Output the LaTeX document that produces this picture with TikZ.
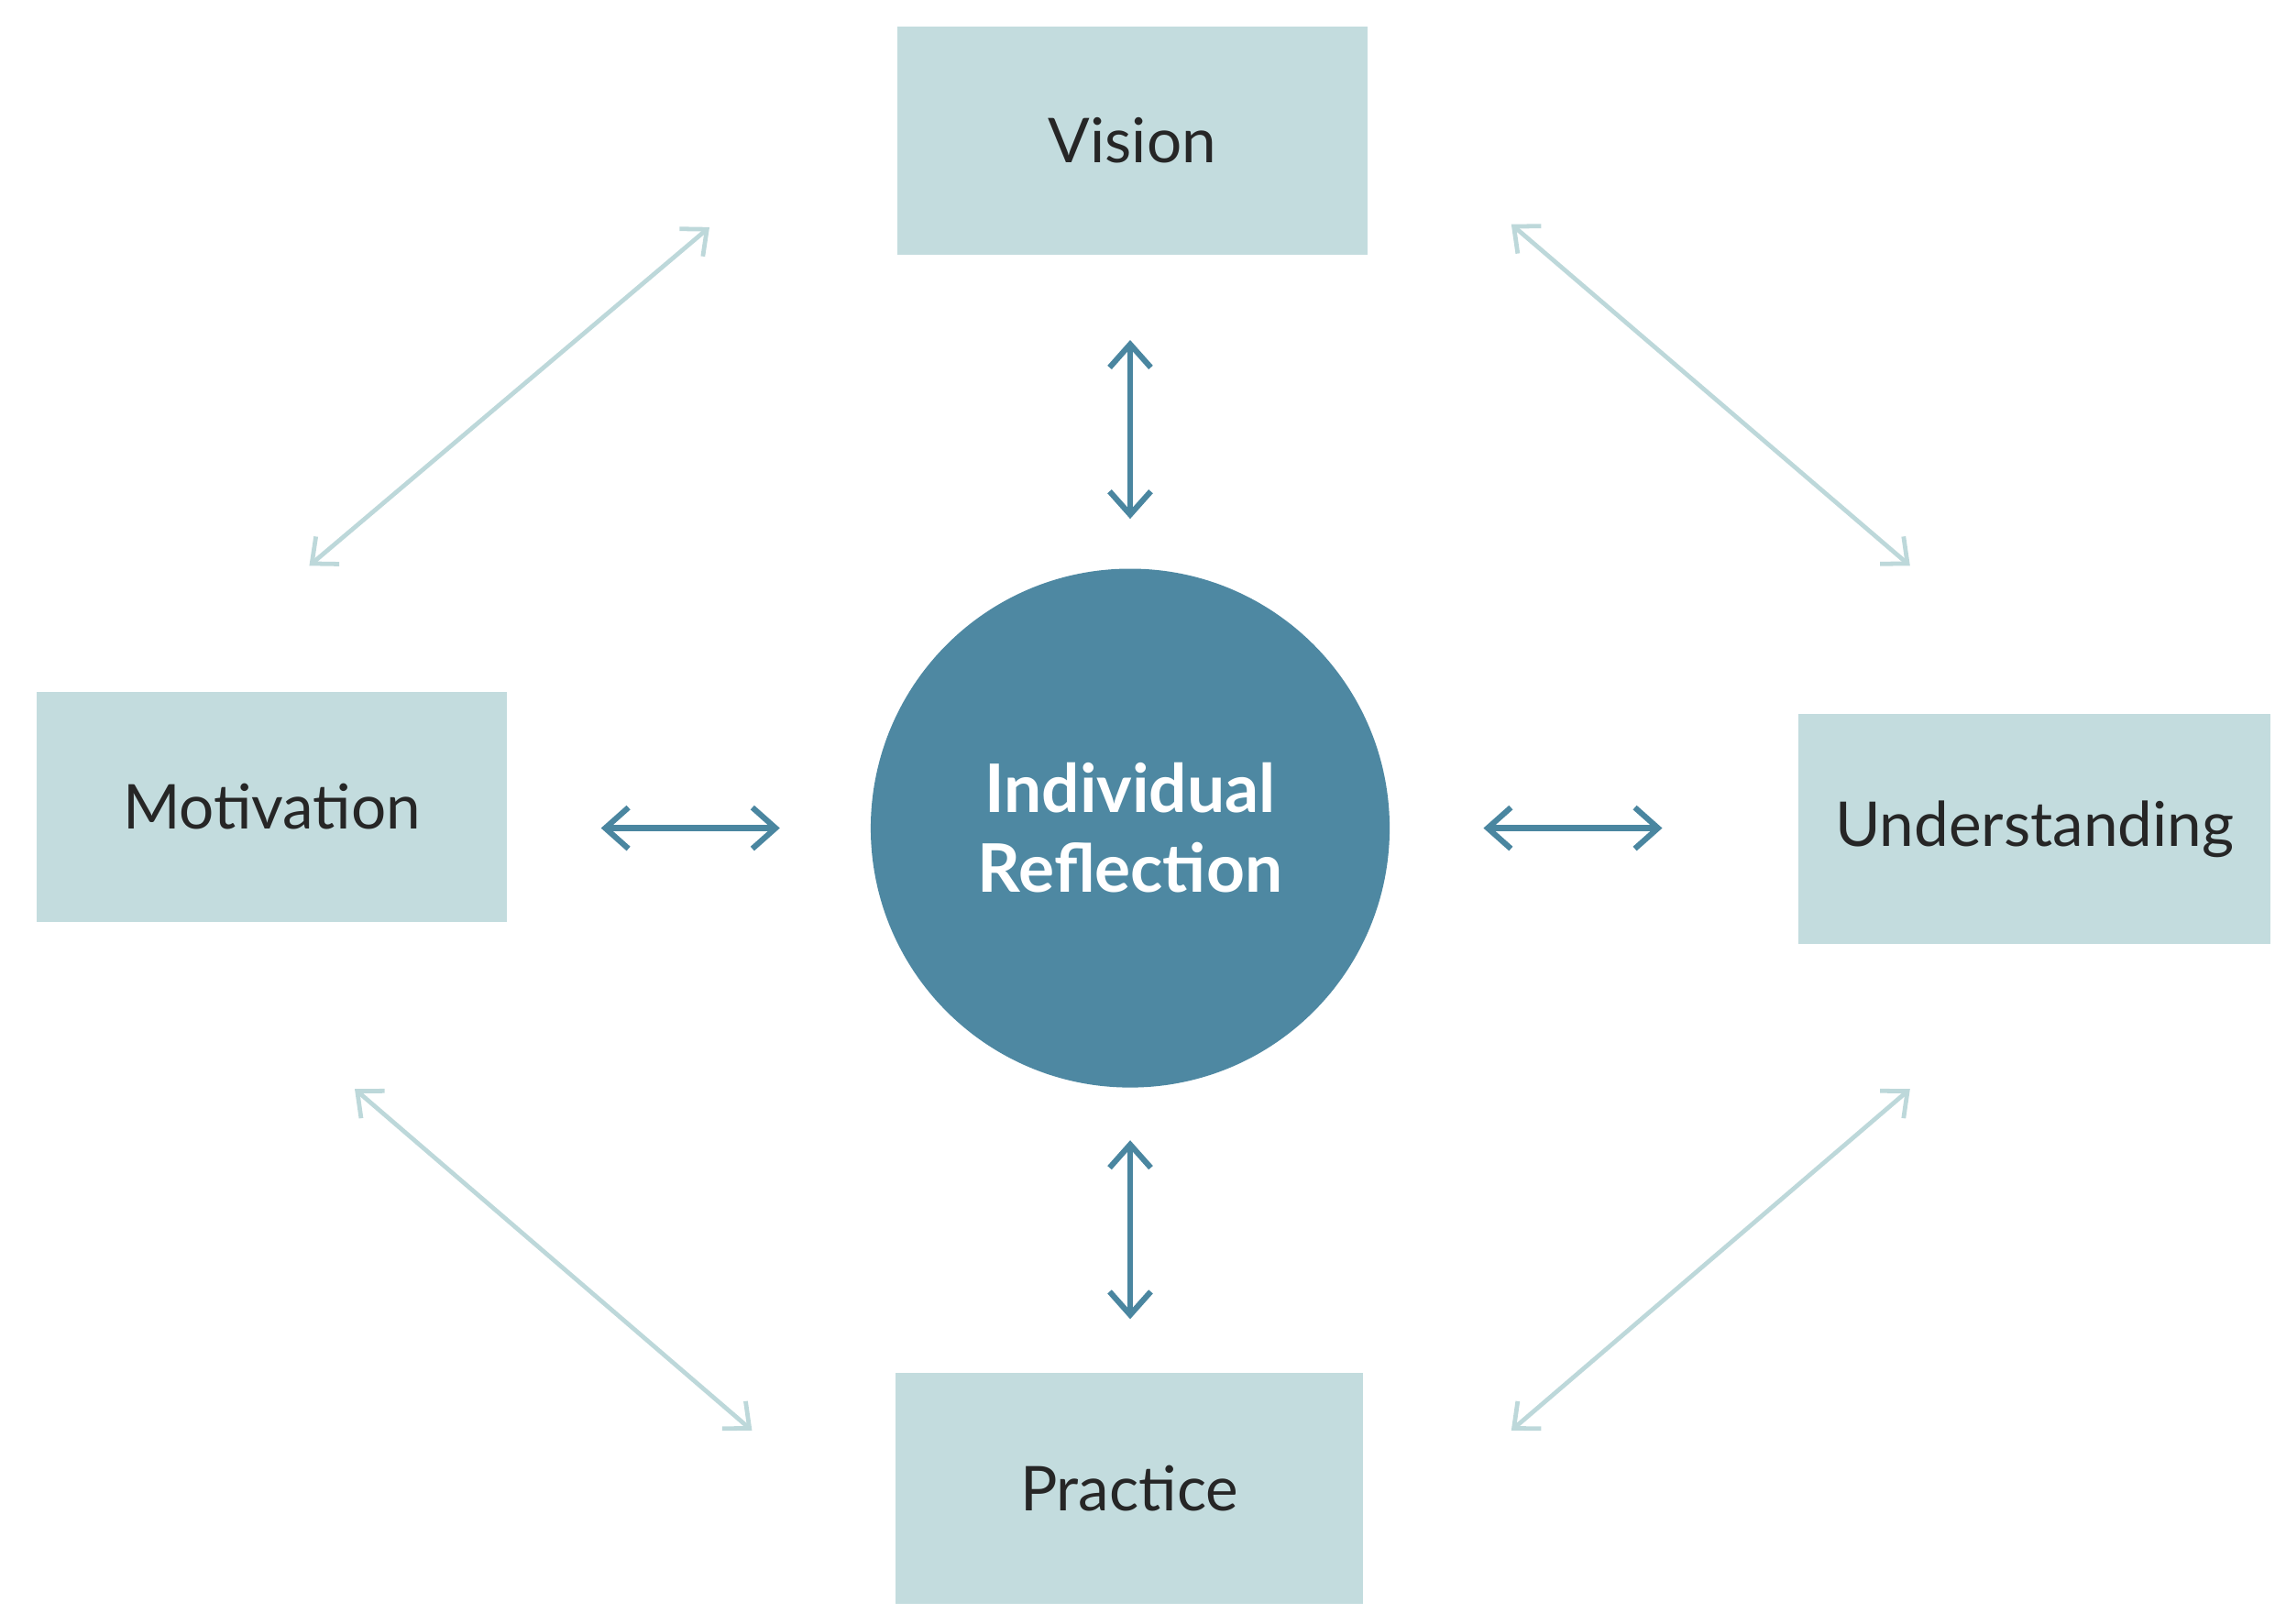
\documentclass[tikz,border=0pt]{standalone}
\usepackage{fontspec}
\setmainfont{Lato}
\usetikzlibrary{arrows.meta}
\definecolor{boxc}{HTML}{C3DCDE}
\definecolor{circc}{HTML}{4E88A2}
\definecolor{darka}{HTML}{4A86A0}
\definecolor{lighta}{HTML}{BDD8DA}
\begin{document}
\begin{tikzpicture}[x=0.02cm,y=-0.02cm,
  box/.style={fill=boxc,draw=none,inner sep=0,font=\fontsize{24}{28}\selectfont,text=black!85},
  dark/.style={draw=darka,line width=2.2pt,{Straight Barb[length=9pt,width=16pt]}-{Straight Barb[length=9pt,width=16pt]}},
  light/.style={draw=lighta,line width=1.7pt,{Straight Barb[length=8pt,width=14pt]}-{Straight Barb[length=8pt,width=14pt]}}]
\useasboundingbox (0,0) rectangle (1552,1108);
\node[box,minimum width=321*0.02cm,minimum height=156*0.02cm] (vis) at (772.5,96) {Vision};
\node[box,minimum width=321*0.02cm,minimum height=157*0.02cm] (mot) at (185.5,550.5) {Motivation};
\node[box,minimum width=322*0.02cm,minimum height=157*0.02cm] (und) at (1388,565.5) {Understanding};
\node[box,minimum width=319*0.02cm,minimum height=157*0.02cm] (pra) at (770.5,1015.5) {Practice};
\node[circle,fill=circc,minimum size=354*0.02cm,text=white,align=center,
  font=\bfseries\fontsize{26}{31}\selectfont] (ir) at (771,565) {Individual\\Reflection};
\coordinate (v1) at (771,232); \coordinate (v2) at (771,354);
\coordinate (p1) at (771,778); \coordinate (p2) at (771,900);
\coordinate (m1) at (410,565); \coordinate (m2) at (532,565);
\coordinate (u1) at (1012,565); \coordinate (u2) at (1134,565);
\draw[dark] (v1) -- (v2);
\draw[dark] (p1) -- (p2);
\draw[dark] (m1) -- (m2);
\draw[dark] (u1) -- (u2);
\coordinate (a1) at (484,155); \coordinate (a2) at (211,386);
\coordinate (b1) at (1031,153); \coordinate (b2) at (1303,386);
\coordinate (c1) at (242,743); \coordinate (c2) at (513,976);
\coordinate (d1) at (1303,743); \coordinate (d2) at (1031,976);
\draw[light] (a1) -- (a2);
\draw[light] (b1) -- (b2);
\draw[light] (c1) -- (c2);
\draw[light] (d1) -- (d2);
\end{tikzpicture}
\end{document}
